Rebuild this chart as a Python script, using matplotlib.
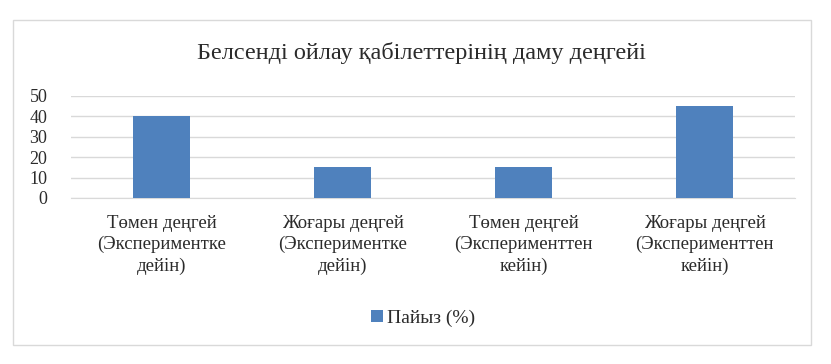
import matplotlib
matplotlib.use("Agg")
import matplotlib.pyplot as plt
from matplotlib.patches import Rectangle

categories = ["Төмен деңгей\n(Экспериментке\nдейін)",
              "Жоғары деңгей\n(Экспериментке\nдейін)",
              "Төмен деңгей\n(Эксперименттен\nкейін)",
              "Жоғары деңгей\n(Эксперименттен\nкейін)"]
values = [40, 15, 15, 45]
series_name = "Пайыз (%)"
title = "Белсенді ойлау қабілеттерінің даму деңгейі"
yticks = [0, 10, 20, 30, 40, 50]

plt.rcParams['font.family'] = ['Liberation Serif', 'DejaVu Serif']
txt = '#2b2b2b'

fig = plt.figure(figsize=(8.31, 3.64), dpi=100)
fig.patches.append(Rectangle((13/831, 1-345/364), (811-13)/831, (345-20)/364,
                             transform=fig.transFigure, fill=False,
                             edgecolor='#d9d9d9', linewidth=1))
ax = fig.add_axes([71/831, 1-198/364, (795-71)/831, (198-96)/364])
x = range(len(categories))
bars = ax.bar(x, values, width=0.31, color='#4f81bd', label=series_name, zorder=3)
ax.set_xlim(-0.5, 3.5)
ax.set_ylim(0, 50)
ax.set_yticks(yticks)
ax.set_xticks(list(x))
ax.set_xticklabels(categories, fontsize=13.5, color=txt, linespacing=1.33)
ax.tick_params(axis='y', labelsize=13, labelcolor=txt, length=0, pad=17)
ax.tick_params(axis='x', length=0, pad=12)
ax.grid(axis='y', color='#d9d9d9', linewidth=1, zorder=0)
for s in ['top', 'right', 'left']:
    ax.spines[s].set_visible(False)
ax.spines['bottom'].set_color('#d9d9d9')
fig.text(421/831, 1-53/364, title, ha='center', va='center', fontsize=17.5, color=txt)
fig.legend(handles=[bars], labels=[series_name], loc='center', bbox_to_anchor=(423/831, 1-318/364),
           frameon=False, fontsize=14, handlelength=0.6, handleheight=0.6, handletextpad=0.2,
           labelcolor=txt)
fig.savefig('out.png', dpi=100)
